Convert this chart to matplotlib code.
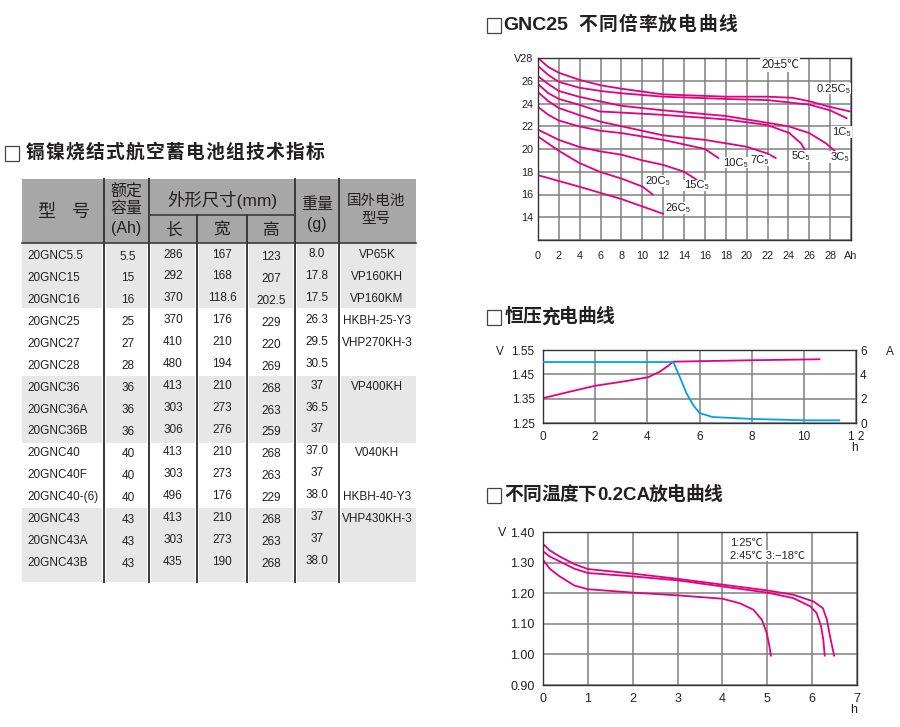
import matplotlib
matplotlib.use("Agg")
import matplotlib.pyplot as plt
from matplotlib.patches import Rectangle

plt.rcParams['font.family'] = ['Liberation Sans', 'Noto Sans CJK SC', 'DejaVu Sans']

PINK = '#e4007f'
BLUE = '#00a0e9'
GRID = '#808080'
TXT = '#231f20'

# ---- table data ----
models = ['20GNC5.5', '20GNC15', '20GNC16', '20GNC25', '20GNC27', '20GNC28',
          '20GNC36', '20GNC36A', '20GNC36B', '20GNC40', '20GNC40F', '20GNC40-(6)',
          '20GNC43', '20GNC43A', '20GNC43B']
capacity = ['5.5', '15', '16', '25', '27', '28', '36', '36', '36', '40', '40', '40', '43', '43', '43']
length = ['286', '292', '370', '370', '410', '480', '413', '303', '306', '413', '303', '496', '413', '303', '435']
width = ['167', '168', '118.6', '176', '210', '194', '210', '273', '276', '210', '273', '176', '210', '273', '190']
height = ['123', '207', '202.5', '229', '220', '269', '268', '263', '259', '268', '263', '229', '268', '263', '268']
weight = ['8.0', '17.8', '17.5', '26.3', '29.5', '30.5', '37', '36.5', '37', '37.0', '37', '38.0', '37', '37', '38.0']
foreign = ['VP65K', 'VP160KH', 'VP160KM', 'HKBH-25-Y3', 'VHP270KH-3', '', 'VP400KH', '', '',
           'V040KH', '', 'HKBH-40-Y3', 'VHP430KH-3', '', '']

# ---- GNC25 discharge at different rates (Ah, V) ----
ah_025 = [0, 1, 2, 3.9, 6, 8, 12, 18, 22, 24.4, 26, 28, 29.9]
v_025 = [28.0, 27.2, 26.7, 26.1, 25.6, 25.3, 24.8, 24.6, 24.6, 24.5, 24.2, 23.7, 23.3]
ah_1 = [0, 1, 2, 3.9, 6, 8, 12, 18, 22, 26, 28, 29.6]
v_1 = [27.3, 26.5, 25.9, 25.4, 25.1, 24.9, 24.6, 24.4, 24.3, 23.9, 23.4, 22.7]
ah_3 = [0, 1, 2, 3.9, 5.9, 8, 12, 18, 22, 24, 26, 27.6, 28.6]
v_3 = [26.4, 25.7, 25.1, 24.6, 24.2, 23.8, 23.4, 22.9, 22.3, 22.0, 21.4, 20.5, 19.7]
ah_5 = [0, 1, 2, 3.9, 5.9, 8, 12, 18, 22, 24.1, 25.2, 25.6]
v_5 = [25.7, 24.9, 24.4, 23.9, 23.3, 23.2, 23.0, 22.6, 22.1, 21.4, 20.5, 19.9]
ah_7 = [0, 1, 2, 3.9, 6, 8, 12, 16, 20, 22, 22.8]
v_7 = [25.0, 24.2, 23.6, 23.0, 22.4, 22.0, 21.2, 20.8, 20.2, 19.6, 19.2]
ah_10 = [0, 1, 2, 3.9, 6, 8, 12, 16, 17.3]
v_10 = [23.7, 23.0, 22.5, 22.0, 21.6, 21.4, 20.8, 20.0, 19.2]
ah_15 = [0, 2, 3.9, 5.9, 8, 10, 12, 14, 15.2]
v_15 = [21.7, 20.8, 20.2, 19.8, 19.5, 19.0, 18.6, 18.0, 17.3]
ah_20 = [0, 1.9, 3.9, 5.9, 8, 10, 11]
v_20 = [21.1, 19.9, 18.8, 18.0, 17.4, 16.7, 16.0]
ah_26 = [0, 3.9, 8, 12]
v_26 = [17.7, 16.7, 15.6, 14.3]
rate_labels = ['0.25C₅', '1C₅', '3C₅', '5C₅', '7C₅', '10C₅', '15C₅', '20C₅', '26C₅']
label_ah = [28.3, 29.1, 28.9, 25.2, 21.3, 18.9, 15.2, 11.5, 13.4]
label_v = [25.3, 21.5, 19.3, 19.4, 19.0, 18.8, 16.8, 17.2, 14.8]

# ---- constant voltage charge ----
chg_h_v = [0, 1, 2, 3.05, 4.03, 4.48, 4.8, 4.99, 6.5, 8.06, 10.04, 10.6]
chg_v = [1.352, 1.378, 1.403, 1.420, 1.438, 1.461, 1.485, 1.502, 1.505, 1.508, 1.511, 1.512]
chg_h_a = [0, 5.0, 5.12, 5.24, 5.5, 5.75, 6.0, 6.5, 8.06, 10.04, 11.36]
chg_a = [5.01, 5.01, 4.4, 3.81, 2.45, 1.5, 0.82, 0.49, 0.33, 0.22, 0.22]

# ---- 0.2CA discharge at different temperatures ----
t1_h = [0, 0.15, 0.37, 0.7, 1.0, 2, 3, 4, 5, 5.58, 6.03, 6.24, 6.33, 6.4, 6.49]
t1_v = [1.361, 1.34, 1.32, 1.295, 1.279, 1.264, 1.247, 1.228, 1.209, 1.195, 1.173, 1.151, 1.113, 1.058, 0.996]
t2_h = [0, 0.15, 0.37, 0.7, 1.0, 2, 3, 4, 5, 5.58, 5.96, 6.1, 6.2, 6.25, 6.28]
t2_v = [1.337, 1.32, 1.304, 1.28, 1.266, 1.255, 1.242, 1.222, 1.202, 1.184, 1.157, 1.135, 1.091, 1.047, 0.996]
t3_h = [0, 0.15, 0.37, 0.7, 1.0, 2, 3, 4, 4.39, 4.69, 4.88, 4.99, 5.05, 5.08]
t3_v = [1.309, 1.28, 1.255, 1.225, 1.213, 1.202, 1.193, 1.182, 1.167, 1.146, 1.113, 1.069, 1.025, 0.996]

fig = plt.figure(figsize=(9, 7.27), dpi=100)
fig.patch.set_facecolor('white')

# pixel overlay for titles and table
pa = fig.add_axes([0, 0, 1, 1])
pa.set_xlim(0, 900)
pa.set_ylim(727, 0)
pa.axis('off')


def box(x, y):
    pa.add_patch(Rectangle((x, y - 7.5), 14, 15, fill=False, ec='#444444', lw=0.9))


def spaced(x, y, s, pitch, size=13.5):
    # CJK title text with the wide letter spacing of the original
    for i, ch in enumerate(s):
        pa.text(x + pitch * (i + 0.5), y, ch, fontsize=size, fontweight='bold',
                color=TXT, ha='center', va='center')


box(5, 153)
spaced(25, 153, '镉镍烧结式航空蓄电池组技术指标', 20)
box(487, 25)
pa.text(503, 25, 'GNC25', fontsize=14, fontweight='bold', color=TXT, ha='left', va='center')
spaced(578, 25, '不同倍率放电曲线', 19.9)
box(487, 317)
spaced(505, 317, '恒压充电曲线', 18.2)
box(487, 495)
spaced(505, 495, '不同温度下', 18.2)
pa.text(597, 495, '0.2CA', fontsize=13.5, fontweight='bold', color=TXT, ha='left', va='center')
spaced(649, 495, '放电曲线', 18.2)

# table geometry
tl, tr = 22, 416
ttop, hbot, tbot = 179, 243, 582
cols = [tl, 104, 149, 197, 247, 295, 339, tr]
HEAD = '#a7a7a7'
ROWG = '#e7e7e7'
DIV = '#3a3a3a'

pa.add_patch(Rectangle((tl, ttop), tr - tl, hbot - ttop, fc=HEAD, ec='none'))
group_edges = [243, 308, 376, 443, 508, 582]
for g in range(5):
    if g % 2 == 0:
        for c in range(7):
            x0 = cols[c] + (2 if c > 0 else 0)
            x1 = cols[c + 1] - (2 if c < 6 else 0)
            pa.add_patch(Rectangle((x0, group_edges[g]), x1 - x0, group_edges[g + 1] - group_edges[g],
                                   fc=ROWG, ec='none'))

for c in [104, 149, 295, 339]:
    pa.plot([c, c], [ttop, tbot], color=DIV, lw=1.4)
for c in [197, 247]:
    pa.plot([c, c], [215, tbot], color=DIV, lw=1.4)
pa.plot([149, 295], [215, 215], color=DIV, lw=1.2)
pa.plot([tl, tr], [hbot, hbot], color=DIV, lw=1.2)

hk = dict(color=TXT, ha='center', va='center')
pa.text(46, 212, '型', fontsize=13, **hk)
pa.text(81, 212, '号', fontsize=13, **hk)
pa.text(126, 192.5, '额定', fontsize=11.5, **hk)
pa.text(126, 209, '容量', fontsize=11.5, **hk)
pa.text(126, 229, '(Ah)', fontsize=11.5, **hk)
pa.text(222, 200, '外形尺寸(mm)', fontsize=12.5, **hk)
pa.text(173, 230, '长', fontsize=12, **hk)
pa.text(222, 230, '宽', fontsize=12, **hk)
pa.text(271, 230, '高', fontsize=12, **hk)
pa.text(317, 205, '重量', fontsize=11.5, **hk)
pa.text(317, 225, '(g)', fontsize=11.5, **hk)
pa.text(376, 200.5, '国外电池', fontsize=10.5, **hk)
pa.text(376, 219, '型号', fontsize=10.5, **hk)

row_h = 21.93
for i in range(len(models)):
    y = 256 + i * row_h
    dk = dict(fontsize=8.5, color=TXT, va='center')
    pa.text(27, y, models[i], ha='left', **dk)
    pa.text(128, y + 0.5, capacity[i], ha='center', **dk)
    pa.text(173, y - 1.5, length[i], ha='center', **dk)
    pa.text(222, y - 1.5, width[i], ha='center', **dk)
    pa.text(271, y + 1, height[i], ha='center', **dk)
    pa.text(317, y - 2, weight[i], ha='center', **dk)
    pa.text(377, y - 0.5, foreign[i], ha='center', **dk)


def style(ax):
    for sp in ax.spines.values():
        sp.set_color('#333333')
        sp.set_linewidth(1.0)
    ax.grid(True, color=GRID, lw=1.1)
    ax.set_axisbelow(True)


# ---- top chart ----
ax1 = fig.add_axes([538 / 900, 1 - 240 / 727, 313 / 900, 182 / 727])
style(ax1)
ax1.set_xlim(0, 30)
ax1.set_ylim(12, 28)
ax1.set_xticks(range(0, 31, 2))
ax1.set_xticklabels([str(i) for i in range(0, 29, 2)] + ['Ah'])
ax1.set_yticks(range(12, 29, 2))
ax1.set_yticklabels([''] + [str(i) for i in range(14, 27, 2)] + ['V28'])
ax1.tick_params(axis='x', length=0, pad=8, labelsize=7.8, colors=TXT)
ax1.tick_params(axis='y', length=0, pad=3.5, labelsize=7.8, colors=TXT)
for xs, ys in [(ah_025, v_025), (ah_1, v_1), (ah_3, v_3), (ah_5, v_5), (ah_7, v_7),
               (ah_10, v_10), (ah_15, v_15), (ah_20, v_20), (ah_26, v_26)]:
    ax1.plot(xs, ys, color=PINK, lw=1.3, solid_capstyle='round')
for s, x, y in zip(rate_labels, label_ah, label_v):
    ax1.text(x, y, s, fontsize=8, color=TXT, ha='center', va='center',
             bbox=dict(fc='white', ec='none', pad=0.6))
ax1.text(23.2, 27.4, '20±5℃', fontsize=8.5, color=TXT, ha='center', va='center',
         bbox=dict(fc='white', ec='none', pad=0.6))

# ---- middle chart ----
ax2 = fig.add_axes([543 / 900, 1 - 423 / 727, 313 / 900, 73 / 727])
style(ax2)
ax2.set_xlim(0, 12)
ax2.set_ylim(1.25, 1.55)
ax2.set_xticks(range(0, 13, 2))
ax2.set_xticklabels(['0', '2', '4', '6', '8', '10', '1 2'])
ax2.set_yticks([1.25, 1.35, 1.45, 1.55])
ax2.set_yticklabels(['1.25', '1.35', '1.45', '1.55'])
ax2.tick_params(axis='x', length=0, pad=6, labelsize=8.5, colors=TXT)
ax2.tick_params(axis='y', length=0, pad=6, labelsize=8.5, colors=TXT)
ax2.plot(chg_h_v, chg_v, color=PINK, lw=1.3)
ax2r = ax2.twinx()
ax2r.set_ylim(0, 6)
ax2r.set_yticks([0, 2, 4, 6])
ax2r.tick_params(axis='y', length=0, pad=3, labelsize=8.5, colors=TXT)
ax2r.plot(chg_h_a, chg_a, color=BLUE, lw=1.3)
for sp in ax2r.spines.values():
    sp.set_visible(False)
pa.text(500, 352, 'V', fontsize=8.5, color=TXT, ha='center', va='center')
pa.text(890, 352, 'A', fontsize=8.5, color=TXT, ha='center', va='center')
pa.text(854, 448, 'h', fontsize=8.5, color=TXT, ha='center', va='center')

# ---- bottom chart ----
ax3 = fig.add_axes([543 / 900, 1 - 685 / 727, 314 / 900, 153 / 727])
style(ax3)
ax3.set_xlim(0, 7)
ax3.set_ylim(0.90, 1.40)
ax3.set_xticks(range(0, 8))
ax3.set_yticks([0.9, 1.0, 1.1, 1.2, 1.3, 1.4])
ax3.set_yticklabels(['0.90', '1.00', '1.10', '1.20', '1.30', '1.40'])
ax3.tick_params(axis='x', length=0, pad=6, labelsize=9, colors=TXT)
ax3.tick_params(axis='y', length=0, pad=6, labelsize=9, colors=TXT)
for xs, ys in [(t1_h, t1_v), (t2_h, t2_v), (t3_h, t3_v)]:
    ax3.plot(xs, ys, color=PINK, lw=1.3)
ax3.text(4.17, 1.364, '1:25℃', fontsize=8, color=TXT, ha='left', va='center',
         bbox=dict(fc='white', ec='none', pad=0.4))
ax3.text(4.17, 1.322, '2:45℃ 3:−18℃', fontsize=8, color=TXT, ha='left', va='center',
         bbox=dict(fc='white', ec='none', pad=0.4))
pa.text(502, 533, 'V', fontsize=9, color=TXT, ha='center', va='center')
pa.text(854, 710, 'h', fontsize=9, color=TXT, ha='center', va='center')

fig.savefig('out.png', dpi=100)
